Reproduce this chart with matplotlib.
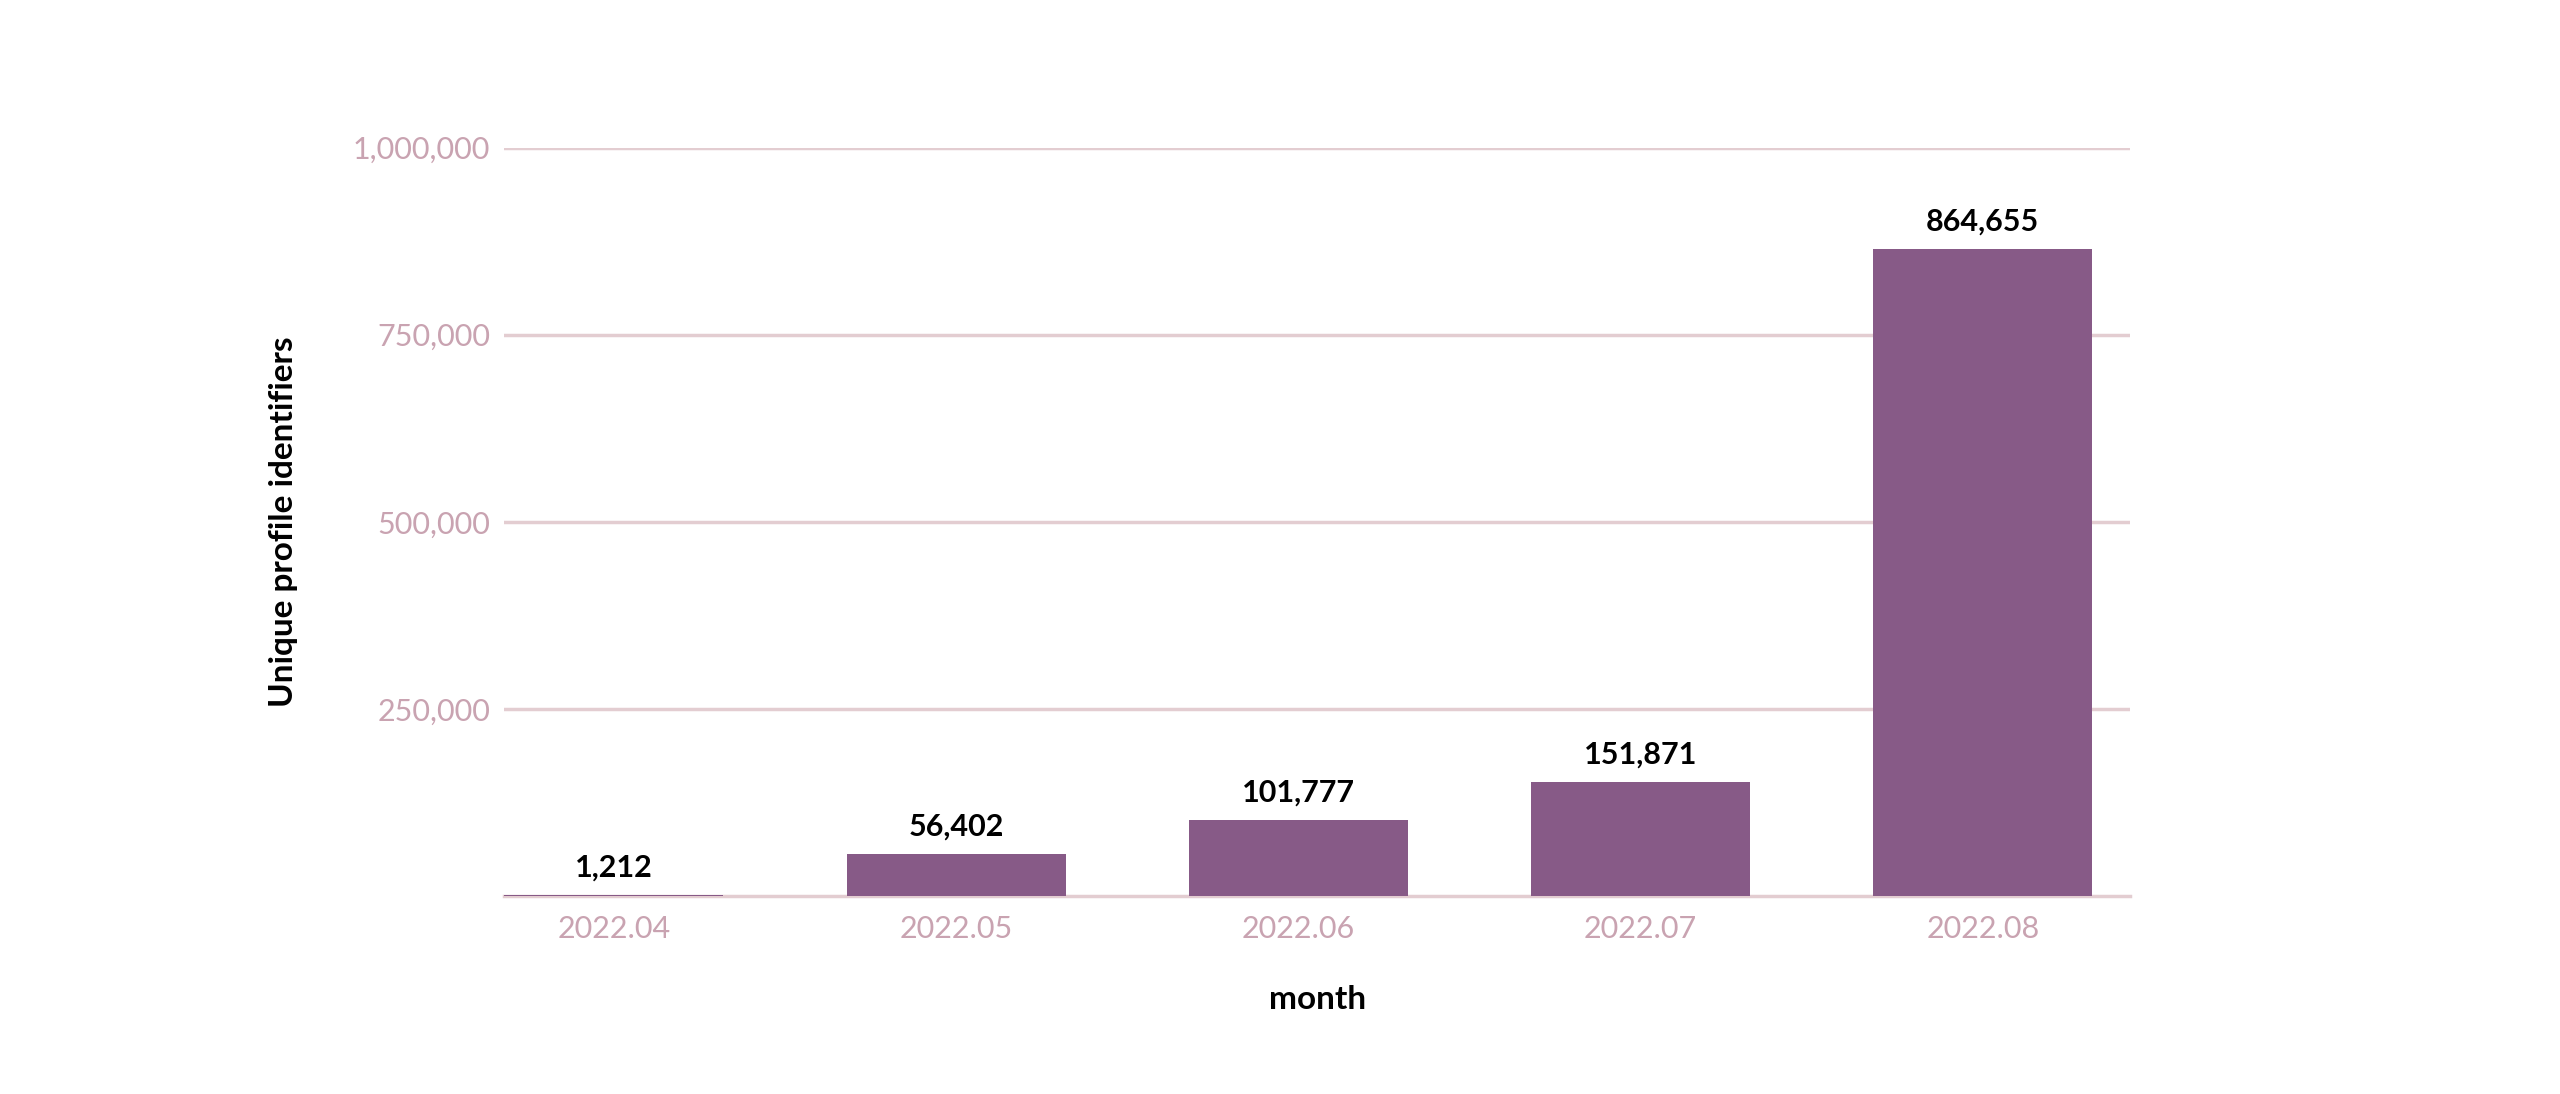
import matplotlib.pyplot as plt
from matplotlib.ticker import FuncFormatter

months = ['2022.04', '2022.05', '2022.06', '2022.07', '2022.08']
profiles = [1212, 56402, 101777, 151871, 864655]
yticks = [250000, 500000, 750000, 1000000]

bar_color = '#875a87'
grid_color = '#e3cdd1'
tick_color = '#c9a3b1'

plt.rcParams['font.family'] = 'Lato'

fig = plt.figure(figsize=(25.6, 10.94), dpi=100)
ax = fig.add_axes([0.197, 0.181, 0.635, 0.684])

x = range(len(months))
bars = ax.bar(x, profiles, width=0.64, color=bar_color, zorder=3)
for xi, v in zip(x, profiles):
    ax.text(xi, v + 18000, f'{v:,}', ha='center', va='bottom',
            fontsize=22, fontweight='bold', color='black')

ax.set_xlim(-0.32, 4.43)
ax.set_ylim(0, 1000000)
ax.set_yticks(yticks)
ax.yaxis.set_major_formatter(FuncFormatter(lambda v, p: f'{int(v):,}'))
ax.set_xticks(list(x))
ax.set_xticklabels(months)
ax.grid(axis='y', color=grid_color, linewidth=2.5, zorder=0)
ax.tick_params(axis='both', colors=tick_color, labelsize=22, length=0)
ax.tick_params(axis='x', pad=14)
ax.tick_params(axis='y', pad=10)
for s in ['top', 'right', 'left']:
    ax.spines[s].set_visible(False)
ax.spines['bottom'].set_color(grid_color)
ax.spines['bottom'].set_linewidth(2.5)

ax.set_xlabel('month', fontsize=24, fontweight='bold', labelpad=30)
ax.set_ylabel('Unique profile identifiers', fontsize=24, fontweight='bold', labelpad=40)

fig.savefig('out.png', dpi=100)
